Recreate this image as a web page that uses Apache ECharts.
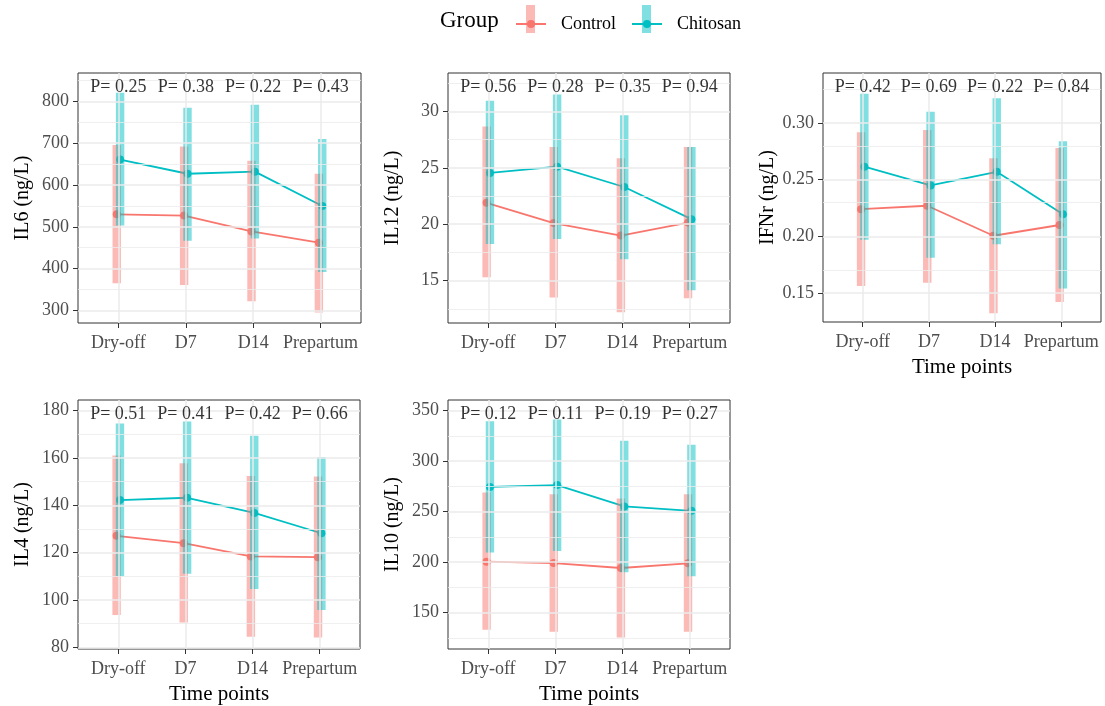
<!DOCTYPE html>
<html>
<head>
<meta charset="utf-8">
<script src="https://cdn.jsdelivr.net/npm/echarts@6/dist/echarts.min.js"></script>
<style>html,body{margin:0;padding:0;background:#fff}#c{width:1105px;height:706px}</style>
</head>
<body>
<div id="c"></div>
<script>
// ---------- data ----------
const timePoints = ['Dry-off', 'D7', 'D14', 'Prepartum'];
const groupNames = ['Control', 'Chitosan'];

// IL6
const il6ControlMean = [530, 527, 489, 462];
const il6ControlLow  = [365, 361, 322, 295];
const il6ControlHigh = [696, 692, 658, 627];
const il6ChitosanMean = [661, 627, 632, 550];
const il6ChitosanLow  = [503, 467, 472, 392];
const il6ChitosanHigh = [821, 785, 792, 710];
const il6P = ['0.25', '0.38', '0.22', '0.43'];
const il6Ticks = [300, 400, 500, 600, 700, 800];

// IL12
const il12ControlMean = [21.9, 20.1, 19.0, 20.15];
const il12ControlLow  = [15.3, 13.5, 12.2, 13.45];
const il12ControlHigh = [28.65, 26.85, 25.85, 26.85];
const il12ChitosanMean = [24.55, 25.1, 23.3, 20.45];
const il12ChitosanLow  = [18.25, 18.7, 16.9, 14.15];
const il12ChitosanHigh = [30.95, 31.5, 29.65, 26.85];
const il12P = ['0.56', '0.28', '0.35', '0.94'];
const il12Ticks = [15, 20, 25, 30];

// IFNr
const ifnControlMean = [0.224, 0.227, 0.2005, 0.210];
const ifnControlLow  = [0.156, 0.159, 0.132, 0.142];
const ifnControlHigh = [0.292, 0.294, 0.269, 0.278];
const ifnChitosanMean = [0.2615, 0.245, 0.257, 0.2195];
const ifnChitosanLow  = [0.197, 0.181, 0.193, 0.154];
const ifnChitosanHigh = [0.326, 0.310, 0.322, 0.284];
const ifnP = ['0.42', '0.69', '0.22', '0.84'];
const ifnTicks = [0.15, 0.20, 0.25, 0.30];

// IL4
const il4ControlMean = [127.1, 124.0, 118.4, 118.1];
const il4ControlLow  = [93.7, 90.5, 84.5, 84.2];
const il4ControlHigh = [161.0, 157.8, 152.4, 152.2];
const il4ChitosanMean = [142.2, 143.2, 136.8, 128.2];
const il4ChitosanLow  = [110.0, 111.1, 104.7, 95.8];
const il4ChitosanHigh = [174.6, 175.4, 169.4, 160.4];
const il4P = ['0.51', '0.41', '0.42', '0.66'];
const il4Ticks = [80, 100, 120, 140, 160, 180];

// IL10
const il10ControlMean = [200.4, 199.1, 194.2, 198.8];
const il10ControlLow  = [133, 131, 125.5, 131];
const il10ControlHigh = [269, 267.2, 263, 267.2];
const il10ChitosanMean = [274.4, 276.3, 255.1, 250.8];
const il10ChitosanLow  = [209.6, 210.9, 190, 186];
const il10ChitosanHigh = [339.5, 341.2, 320.2, 316.3];
const il10P = ['0.12', '0.11', '0.19', '0.27'];
const il10Ticks = [150, 200, 250, 300, 350];

// ---------- layout / style ----------
const FONT = "'Liberation Serif', 'Times New Roman', serif";
const colors = { Control: '#F8766D', Chitosan: '#00BFC4' };
const barColors = { Control: 'rgba(248,118,109,0.5)', Chitosan: 'rgba(0,191,196,0.5)' };
const dodge = { Control: -0.025, Chitosan: 0.025 };

const panels = [
  { title: 'IL6 (ng/L)', grid: { left: 78, top: 73, width: 283, height: 250 }, min: 270, max: 868, dec: 0, xTitle: false,
    ticks: il6Ticks, p: il6P,
    Control: [il6ControlMean, il6ControlLow, il6ControlHigh], Chitosan: [il6ChitosanMean, il6ChitosanLow, il6ChitosanHigh] },
  { title: 'IL12 (ng/L)', grid: { left: 448, top: 73, width: 282, height: 250 }, min: 11.25, max: 33.4, dec: 0, xTitle: false,
    ticks: il12Ticks, p: il12P,
    Control: [il12ControlMean, il12ControlLow, il12ControlHigh], Chitosan: [il12ChitosanMean, il12ChitosanLow, il12ChitosanHigh] },
  { title: 'IFNr (ng/L)', grid: { left: 823, top: 73, width: 278, height: 249 }, min: 0.1243, max: 0.3443, dec: 2, xTitle: true,
    ticks: ifnTicks, p: ifnP,
    Control: [ifnControlMean, ifnControlLow, ifnControlHigh], Chitosan: [ifnChitosanMean, ifnChitosanLow, ifnChitosanHigh] },
  { title: 'IL4 (ng/L)', grid: { left: 78, top: 400, width: 282, height: 251 }, min: 79.3, max: 184.5, dec: 0, xTitle: true,
    ticks: il4Ticks, p: il4P,
    Control: [il4ControlMean, il4ControlLow, il4ControlHigh], Chitosan: [il4ChitosanMean, il4ChitosanLow, il4ChitosanHigh] },
  { title: 'IL10 (ng/L)', grid: { left: 448, top: 400, width: 282, height: 251 }, min: 114, max: 360.5, dec: 0, xTitle: true,
    ticks: il10Ticks, p: il10P,
    Control: [il10ControlMean, il10ControlLow, il10ControlHigh], Chitosan: [il10ChitosanMean, il10ChitosanLow, il10ChitosanHigh] }
];

const catValues = timePoints.map((t, i) => i + 1);

const grids = [], xAxes = [], yAxes = [], series = [];

panels.forEach((pn, k) => {
  grids.push(Object.assign({ show: true, borderColor: '#333333', borderWidth: 1, backgroundColor: '#fff' }, pn.grid));

  xAxes.push({
    type: 'value', gridIndex: k, min: 0.4, max: 4.6,
    axisLine: { show: false },
    splitLine: { show: false },
    axisTick: { show: true, customValues: catValues, length: 5, lineStyle: { color: '#333333', width: 1 } },
    axisLabel: { customValues: catValues, margin: 11, color: '#4D4D4D', fontSize: 18, fontFamily: FONT,
      formatter: v => timePoints[Math.round(v) - 1] },
    name: pn.xTitle ? 'Time points' : '', nameLocation: 'middle', nameGap: 35,
    nameTextStyle: { color: '#000', fontSize: 21, fontFamily: FONT }
  });

  yAxes.push({
    type: 'value', gridIndex: k, min: pn.min, max: pn.max,
    axisLine: { show: false },
    splitLine: { show: false },
    axisTick: { show: true, customValues: pn.ticks, length: 5, lineStyle: { color: '#333333', width: 1 } },
    axisLabel: { customValues: pn.ticks, margin: 9, color: '#4D4D4D', fontSize: 18, fontFamily: FONT,
      formatter: v => v.toFixed(pn.dec) },
    name: pn.title, nameLocation: 'middle', nameGap: 45, nameRotate: 90,
    nameTextStyle: { color: '#000', fontSize: 20, fontFamily: FONT }
  });

  // gridlines (major + minor) through the axis scales
  const step = pn.ticks[1] - pn.ticks[0];
  const minor = [];
  for (let i = -1; i < pn.ticks.length; i++) {
    const m = pn.ticks[0] + (i + 0.5) * step;
    if (m >= pn.min && m <= pn.max) minor.push(m);
  }
  const glData = []
    .concat(minor.map(v => ({ yAxis: v, lineStyle: { color: '#EBEBEB', width: 0.8, type: 'solid' } })))
    .concat(pn.ticks.map(v => ({ yAxis: v, lineStyle: { color: '#EBEBEB', width: 1.5, type: 'solid' } })))
    .concat(catValues.map(v => ({ xAxis: v, lineStyle: { color: '#EBEBEB', width: 1.5, type: 'solid' } })));
  series.push({
    name: 'grid' + k, type: 'line', xAxisIndex: k, yAxisIndex: k, data: [], z: 1, silent: true,
    markLine: { silent: true, symbol: ['none', 'none'], label: { show: false }, animation: false, data: glData }
  });

  groupNames.forEach(g => {
    const [mean] = pn[g];
    series.push({
      name: g, type: 'line', xAxisIndex: k, yAxisIndex: k, z: 2,
      data: mean.map((v, j) => [j + 1 + dodge[g], v]),
      symbol: 'circle', symbolSize: 8, showSymbol: true,
      lineStyle: { color: colors[g], width: 1.8 },
      itemStyle: { color: colors[g] },
      emphasis: { disabled: true }
    });
  });

  groupNames.forEach((g, gi) => {
    const [mean, lo, hi] = pn[g];
    series.push({
      name: g, type: 'custom', xAxisIndex: k, yAxisIndex: k, z: 3 + gi,
      data: mean.map((v, j) => [j + 1 + dodge[g], lo[j], hi[j]]),
      encode: { x: 0, y: [1, 2] },
      itemStyle: { color: barColors[g] },
      renderItem: (params, api) => {
        const x = api.value(0);
        const top = api.coord([x, api.value(2)]);
        const bot = api.coord([x, api.value(1)]);
        return { type: 'rect', shape: { x: top[0] - 4.2, y: top[1], width: 8.4, height: bot[1] - top[1] },
          style: { fill: barColors[g] } };
      }
    });
  });

  series.push({
    name: 'p' + k, type: 'scatter', xAxisIndex: k, yAxisIndex: k, z: 6, silent: true,
    symbolSize: 0,
    data: pn.p.map((v, j) => ({ value: [j + 1, pn.max], label: { formatter: 'P= ' + v } })),
    label: { show: true, position: 'bottom', distance: 5, color: '#000', fontSize: 18, fontFamily: FONT }
  });
});

const chart = echarts.init(document.getElementById('c'), null, { renderer: 'canvas' });
chart.setOption({
  animation: false,
  backgroundColor: '#fff',
  title: { text: 'Group', left: 440, top: 9, padding: 0,
    textStyle: { color: '#000', fontSize: 23, fontWeight: 'normal', fontFamily: FONT } },
  legend: [
    { data: ['Control'], left: 515, top: 15, padding: 0, itemWidth: 30, itemHeight: 10, z: 5,
      textStyle: { color: '#000', fontSize: 18, fontFamily: FONT, padding: [0, 0, 0, 10] }, selectedMode: false },
    { data: ['Chitosan'], left: 631, top: 15, padding: 0, itemWidth: 30, itemHeight: 10, z: 5,
      textStyle: { color: '#000', fontSize: 18, fontFamily: FONT, padding: [0, 0, 0, 10] }, selectedMode: false },
    { data: [{ name: 'Control', icon: 'rect', itemStyle: { color: barColors.Control, borderWidth: 0 } }],
      left: 526, top: 5, padding: 0, itemWidth: 9, itemHeight: 28, z: 3, selectedMode: false,
      textStyle: { color: 'rgba(0,0,0,0)', fontSize: 17 } },
    { data: [{ name: 'Chitosan', icon: 'rect', itemStyle: { color: barColors.Chitosan, borderWidth: 0 } }],
      left: 642, top: 5, padding: 0, itemWidth: 9, itemHeight: 28, z: 3, selectedMode: false,
      textStyle: { color: 'rgba(0,0,0,0)', fontSize: 17 } }
  ],
  grid: grids,
  xAxis: xAxes,
  yAxis: yAxes,
  series: series
});
</script>
</body>
</html>
